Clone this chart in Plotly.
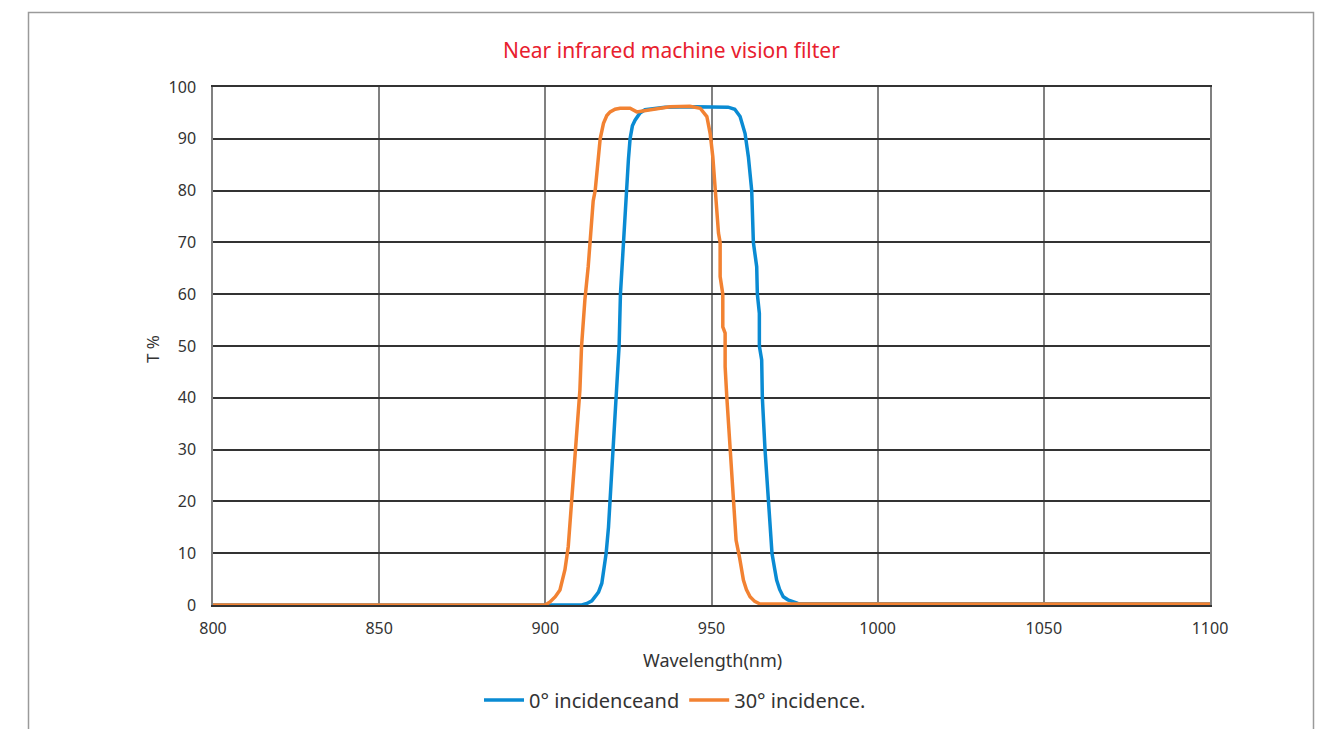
import plotly.graph_objects as go

# Transmission spectra (wavelength in nm, transmittance in %)
wl_0deg = [800, 880, 905, 911, 912.5, 914, 915.2, 916, 917, 917.6, 918.3, 919, 919.5, 920, 920.5,
           921, 921.6, 922.2, 922.6, 923.3, 923.5, 924, 924.3, 925, 925.5, 926.2, 927, 928.5, 930,
           933, 936, 945, 955, 957, 958.6, 960.1, 961.1, 962.1, 962.6, 963.6, 963.8, 964.4, 964.4,
           965.1, 965.3, 966.1, 967.1, 968.2, 969, 969.6, 970.5, 971.6, 973, 974.6, 976, 1100]
t_0deg = [0, 0, 0, 0, 0.3, 0.8, 1.8, 2.5, 4.2, 6.5, 10, 15, 20.3, 25, 30,
          35, 41.5, 50, 60, 68, 70, 75, 80, 86, 90, 92.5, 93.6, 95, 95.6,
          95.9, 96.1, 96.2, 96.1, 95.7, 94.3, 91, 86.5, 80, 70, 65.3, 60, 56.3, 50,
          47.3, 40, 30, 20, 10, 7, 4.8, 3, 1.6, 1, 0.6, 0.3, 0.2]

wl_30deg = [800, 900, 901.4, 903, 904.4, 905.9, 906.9, 907.9, 908.9, 910.4, 910.9, 911.9, 912.9,
            913.4, 913.9, 914.4, 915, 915.8, 916.5, 917.5, 918.5, 919.5, 921, 922.5, 925.5, 927.5,
            931.5, 934, 937.5, 943.5, 946.6, 948.6, 949.6, 950.4, 951.1, 951.5, 952.1, 952.6, 952.6,
            953.4, 953.4, 954.1, 954.1, 954.6, 955.1, 955.6, 956.4, 957.4, 958.4, 959.6, 960.5,
            961.6, 963, 964.6, 1100]
t_30deg = [0, 0, 0.6, 1.6, 2.9, 6.8, 11.3, 20.3, 30, 41.5, 50, 58.9, 65.3,
           70, 75.7, 78, 80, 86, 90, 93, 94.5, 95.2, 95.7, 95.9, 95.9, 95.2,
           95.6, 95.9, 96.2, 96.3, 95.9, 94.3, 91, 86.5, 80, 78, 71.8, 70, 63.4,
           60, 53.7, 52.5, 46, 40.2, 35, 30, 20.3, 12.5, 9.3, 4.8, 3,
           1.6, 0.7, 0.2, 0.2]

x_ticks = [800, 850, 900, 950, 1000, 1050, 1100]
y_ticks = [0, 10, 20, 30, 40, 50, 60, 70, 80, 90, 100]

W, H = 1326, 729
L, R, T, B = 213, 116, 87, 124
pw, ph = W - L - R, H - T - B

def px(x):
    return (x - L) / pw

def py(y):
    return (H - B - y) / ph

FONT = "Noto Sans"

fig = go.Figure()
fig.add_trace(go.Scatter(x=wl_0deg, y=t_0deg, mode="lines", name="0° incidenceand",
                         line=dict(color="#0a8bd3", width=3.5)))
fig.add_trace(go.Scatter(x=wl_30deg, y=t_30deg, mode="lines", name="30° incidence.",
                         line=dict(color="#f28232", width=3.5)))

fig.update_layout(
    width=W, height=H,
    margin=dict(l=L, r=R, t=T, b=B, autoexpand=False),
    paper_bgcolor="white", plot_bgcolor="white",
    font=dict(family=FONT, color="#333333", size=15),
    showlegend=True,
    legend=dict(orientation="h", xref="container", yref="container",
                x=675 / W, xanchor="center", y=1 - 700 / H, yanchor="middle",
                font=dict(size=20, color="#333333"), itemwidth=40, tracegroupgap=0,
                bgcolor="rgba(0,0,0,0)"),
    annotations=[
        dict(text="Near infrared machine vision filter", xref="paper", yref="paper",
             x=px(671), y=py(50), xanchor="center", yanchor="middle", showarrow=False,
             font=dict(size=21, color="#e8202e", family=FONT)),
        dict(text="T %", xref="paper", yref="paper", x=px(152), y=py(349),
             xanchor="center", yanchor="middle", textangle=-90, showarrow=False,
             font=dict(size=17, color="#333333", family=FONT)),
        dict(text="Wavelength(nm)", xref="paper", yref="paper", x=px(712), y=py(660),
             xanchor="center", yanchor="middle", showarrow=False,
             font=dict(size=18, color="#333333", family=FONT)),
    ],
    shapes=[
        dict(type="rect", xref="paper", yref="paper", x0=px(28.5), x1=px(1313.5),
             y0=py(760), y1=py(12.5), line=dict(color="#9a9a9a", width=1.5), layer="below"),
    ],
)

fig.update_xaxes(range=[800, 1100], tickvals=x_ticks, ticktext=[str(v) for v in x_ticks],
                 showgrid=True, gridcolor="#808080", gridwidth=1.5,
                 showline=True, mirror=True, linecolor="#333333", linewidth=1.5,
                 zeroline=False, ticks="", ticklabelstandoff=8, automargin=False,
                 tickfont=dict(size=16, color="#333333"))
fig.update_yaxes(range=[0, 100], tickvals=y_ticks, ticktext=[str(v) for v in y_ticks],
                 showgrid=True, gridcolor="#333333", gridwidth=1.5,
                 showline=True, mirror=True, linecolor="#808080", linewidth=1.5,
                 zeroline=False, ticks="", ticklabelstandoff=12, automargin=False,
                 tickfont=dict(size=16, color="#333333"))

fig.write_html("out.html")
